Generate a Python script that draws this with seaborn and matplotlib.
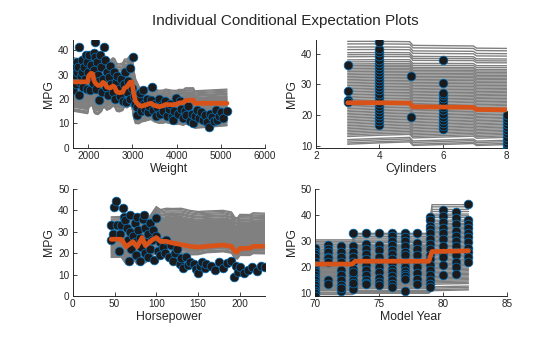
import numpy as np
import pandas as pd
import matplotlib
matplotlib.use("Agg")
import matplotlib.pyplot as plt
import seaborn as sns

# ---------------- data ----------------
title = "Individual Conditional Expectation Plots"

# Weight panel: observations
wt_x = [1649, 1665, 1680, 1700, 1720, 1740, 1755, 1773, 1797, 1800, 1820, 1835, 1850, 1867, 1890, 1900,
        1925, 1950, 1965, 1980, 2000, 2023, 2040, 2050, 2075, 2100, 2120, 2140, 2151, 2160, 2180, 2200,
        2220, 2240, 2250, 2265, 2290, 2300, 2330, 2354, 2380, 2400, 2420, 2450, 2477, 2500, 2520, 2550,
        2580, 2600, 2630, 2660, 2700, 2720, 2750, 2780, 2800, 2830, 2860, 2880, 2900, 2934, 2950, 2980,
        3016, 3040, 3060, 3092, 3110, 3140, 3170, 3200, 3240, 3260, 3290, 3320, 3350, 3380, 3420, 3445,
        3470, 3500, 3530, 3560, 3600, 3630, 3660, 3700, 3740, 3780, 3820, 3860, 3900, 3919, 3950, 3990,
        4030, 4070, 4100, 4140, 4180, 4220, 4260, 4300, 4340, 4380, 4420, 4460, 4500, 4550, 4600, 4650,
        4700, 4731, 4760, 4800, 4850, 4900, 4922, 4960, 5000, 5050, 5146]
wt_y = [23.5, 32.5, 28, 30, 26, 35, 31, 33, 41.4, 21.6, 27, 29.5, 36, 31, 25, 33,
        28, 38, 24, 35, 31, 38, 23.6, 34, 29, 26.5, 39, 32, 43.4, 37, 24, 35,
        30, 27.5, 19.5, 38, 33, 23, 28, 41.2, 36, 25, 31, 21.5, 29, 33.5, 26, 23,
        31, 20, 27, 29.5, 24, 21, 28, 19, 26, 31, 18.6, 23, 27.5, 32.5, 20, 24.5,
        37.3, 21, 18, 13.4, 16.5, 20, 22.5, 15, 23.6, 18, 16, 20, 14.5, 17, 19.5, 25,
        15.5, 18, 13, 16.5, 20, 14, 17.5, 15, 19, 13, 16, 18, 12.5, 11.4, 15, 20.5,
        14, 19, 16, 12, 15, 13.5, 17, 11, 14, 9.9, 13, 15.5, 12, 14.5, 11.5, 13.5,
        10.5, 8.6, 14, 12.5, 11, 15.5, 11.2, 13, 14.5, 12, 15.2]
# Weight panel: partial dependence (orange)
wt_grid = [1649, 1985, 2010, 2060, 2100, 2130, 2160, 2220, 2300, 2330, 2380, 2420, 2500, 2560, 2600,
           2640, 2700, 2780, 2820, 2880, 2940, 2990, 3030, 3070, 3150, 3200, 3300, 3380, 3420, 3500,
           3600, 3700, 3750, 3900, 4000, 4050, 4150, 4200, 4380, 4410, 5140]
wt_pd = [27.0, 27.0, 29.5, 30.5, 30.3, 27.5, 26.5, 25.5, 25.8, 26.8, 26.3, 24.8, 24.5, 25.3, 24.8,
         23.0, 22.5, 22.8, 24.5, 25.0, 26.8, 27.0, 22.0, 19.0, 17.3, 17.0, 17.5, 18.0, 18.2, 17.3,
         16.8, 17.2, 17.7, 17.6, 17.8, 18.3, 18.5, 19.3, 19.5, 18.2, 18.2]
# Weight panel: ICE spread around the PD curve
wt_off_x = [1649, 2100, 2500, 2800, 3000, 3200, 3600, 4000, 4300, 5140]
wt_off_lo = [-12.0, -13.4, -8.5, -7.5, -10.5, -6.5, -6.8, -8.3, -10.4, -9.2]
wt_off_hi = [10.0, 8.0, 11.5, 12.0, 10.5, 7.0, 6.7, 5.7, 5.0, 5.8]

# Cylinders panel
cyl_x = [3] * 4 + [4] * 26 + [5] * 2 + [6] * 15 + [8] * 12
cyl_y = [36.2, 27.8, 24.9, 24.3,
         16.8, 18, 19, 20, 21, 22, 23, 24, 25, 26, 27, 28, 29, 30, 31, 32, 33, 34, 35, 36, 37, 38,
         39.3, 40.5, 41.5, 43.8,
         32.6, 19.3,
         15.4, 16.5, 17.5, 18.5, 19.5, 20.5, 21.5, 22.5, 23.5, 24.5, 25.5, 26.5, 27.3, 30.6, 38,
         9.3, 10.2, 11, 12, 13, 14, 15, 16, 17, 18, 19, 20]
cyl_grid = [3, 4, 4.95, 5.05, 6, 6.95, 7.05, 8]
cyl_pd = [24.0, 24.0, 23.9, 22.7, 22.6, 22.5, 21.8, 21.7]
cyl_off_x = [3, 8]
cyl_off_lo = [-13.5, -11.3]
cyl_off_hi = [20.0, 20.0]

# Horsepower panel
hp_x = [46, 46, 48, 49, 52, 53, 55, 56, 58, 60, 61, 63, 65, 66, 67, 68, 69, 70, 72, 74, 75, 76, 77, 78,
        80, 81, 82, 84, 85, 86, 87, 88, 90, 90, 92, 93, 95, 96, 97, 100, 100, 102, 104, 105, 108, 110,
        112, 115, 118, 120, 122, 125, 128, 130, 132, 135, 138, 140, 145, 148, 150, 152, 155, 158, 160,
        165, 170, 175, 180, 185, 190, 193, 195, 198, 200, 205, 210, 215, 220, 225, 230]
hp_y = [26.2, 33.2, 29, 41.4, 44.3, 33, 21, 29, 33, 41, 37, 35.5, 32, 26, 16.4, 38, 30, 22, 28, 34, 25, 19,
        37, 31, 27, 16.4, 23, 36, 38, 20, 32, 25, 29, 18, 34, 22, 26, 31, 17, 36.6, 28, 21, 19, 25, 23, 20,
        26, 18, 24, 16.5, 20, 22, 15, 17.5, 13, 18, 14.5, 16, 15, 12.5, 10.6, 14, 16, 13, 15,
        14, 12, 16, 13, 15.5, 16.5, 9, 14, 11, 13.5, 10.5, 12, 13.5, 11.5, 14, 13.7]
hp_grid = [46, 58, 64, 72, 77, 83, 87, 95, 100, 105, 112, 119, 130, 140, 150, 160, 170, 180, 190, 194,
           197, 200, 212, 216, 230]
hp_pd = [26.5, 26.5, 23.0, 25.4, 23.0, 27.3, 23.5, 26.2, 27.3, 25.5, 25.5, 24.8, 24.0, 23.2, 22.8,
         23.2, 23.5, 23.8, 23.2, 20.8, 20.5, 22.2, 22.3, 23.2, 23.2]
hp_off_x = [46, 90, 100, 130, 160, 230]
hp_off_lo = [-8.5, -8.0, -7.0, -4.5, -3.0, -3.5]
hp_off_hi = [10.5, 11.0, 14.5, 17.0, 16.5, 15.5]

# Model year panel
my_cols = {
    70: [27.2, 26, 25, 24, 22, 21, 19, 18, 17, 16, 15, 14, 13, 12, 11, 10, 9],
    71: [28.5, 27, 25.9, 24, 23.4, 22, 15.1, 13.5],
    72: [28, 26, 24, 22, 19, 17, 15, 13, 11, 12],
    73: [33, 28, 26, 24, 22, 19.5, 17, 15, 13, 11.5, 14, 18],
    74: [33, 29, 27, 25, 23, 21, 19, 17, 15, 14, 13.5],
    75: [33, 28.5, 26.5, 24, 22, 20, 18, 16, 14.5, 13],
    76: [33, 32, 30, 28.5, 26.5, 25, 23, 21.5, 19.5, 18, 16.5, 15, 13.5, 12.5],
    77: [33, 31.5, 30, 28, 26, 24.5, 22, 20, 18.5, 17.5, 16.5, 15.5, 11],
    78: [33, 29.2, 27, 24.7, 21.9, 20, 17.7, 15.5, 13.4],
    79: [39.4, 38, 36, 34.5, 33, 31, 29, 27, 24.5, 23, 21, 19, 17, 15, 13.5, 12.5],
    80: [41.9, 39.5, 37.5, 35, 33, 31, 28, 25.5, 24, 21, 17],
    81: [41.3, 39, 36.5, 34, 32, 30, 28, 26, 24.5, 22, 20, 17.3],
    82: [44.2, 38, 36.5, 35, 33, 31.5, 29.5, 27.5, 26, 24, 22],
}
my_x = [yr for yr, vals in my_cols.items() for _ in vals]
my_y = [v for vals in my_cols.values() for v in vals]
my_grid = [70, 72.9, 73.15, 78.9, 79.15, 82]
my_pd = [21.2, 21.2, 22.3, 22.3, 26.0, 26.3]
my_off_x = [70, 72.9, 73.15, 78.9, 79.15, 82]
my_off_lo = [-11.7, -11.7, -12.3, -12.3, -15.0, -15.0]
my_off_hi = [9.3, 9.3, 10.7, 10.7, 18.0, 17.7]

# positions of individual ICE curves inside the spread (0 = lowest, 1 = highest)
ice_fracs = [0.000, 0.012, 0.030, 0.045, 0.075, 0.090, 0.105, 0.120, 0.135, 0.150, 0.165, 0.180,
             0.195, 0.210, 0.225, 0.240, 0.255, 0.270, 0.285, 0.300, 0.315, 0.330, 0.345, 0.360,
             0.375, 0.390, 0.405, 0.420, 0.435, 0.450, 0.465, 0.480, 0.495, 0.510, 0.525, 0.540,
             0.555, 0.570, 0.585, 0.600, 0.615, 0.630, 0.645, 0.660, 0.675, 0.690, 0.705, 0.720,
             0.735, 0.750, 0.765, 0.780, 0.800, 0.820, 0.850, 0.870, 0.890, 0.920, 0.945, 0.975,
             1.000]

# ---------------- style ----------------
sns.set_theme(style="white")
plt.rcParams["font.family"] = ["Liberation Sans", "DejaVu Sans"]
DARK = "#262626"
GRAY = "#808080"
ORANGE = "#D95319"
BLUE = "#0072BD"

fig = plt.figure(figsize=(5.6, 3.37), dpi=100)
fig.suptitle(title, x=0.51, y=0.937, va="center", fontsize=11, color=DARK)

axes_pos = {
    "wt": [0.130, 0.562, 0.343, 0.318],
    "cyl": [0.564, 0.562, 0.341, 0.318],
    "hp": [0.130, 0.122, 0.343, 0.317],
    "my": [0.5625, 0.122, 0.3425, 0.317],
}


def ice_frame(grid, pdv, ox, olo, ohi):
    g = np.asarray(grid, float)
    p = np.asarray(pdv, float)
    lo = np.interp(g, ox, olo)
    hi = np.interp(g, ox, ohi)
    rows = []
    for i, f in enumerate(ice_fracs):
        yv = p + lo + f * (hi - lo)
        for xv, yy in zip(g, yv):
            rows.append((i, xv, yy))
    return pd.DataFrame(rows, columns=["line", "x", "y"])


def panel(key, ox, oy, grid, pdv, offx, offlo, offhi, xlim, ylim, xticks, yticks, xlabel):
    ax = fig.add_axes(axes_pos[key])
    ice = ice_frame(grid, pdv, offx, offlo, offhi)
    sns.lineplot(data=ice, x="x", y="y", units="line", estimator=None, sort=False,
                 color=GRAY, linewidth=1.0, ax=ax, legend=False, zorder=1)
    sns.scatterplot(x=ox, y=oy, ax=ax, s=40, color="#1b1b1d", edgecolor=BLUE,
                    linewidth=0.5, zorder=3, legend=False)
    sns.lineplot(x=grid, y=pdv, ax=ax, color=ORANGE, linewidth=3.4, sort=False,
                 estimator=None, zorder=4, legend=False)
    ax.set_xlim(*xlim)
    ax.set_ylim(*ylim)
    ax.set_xticks(xticks)
    ax.set_yticks(yticks)
    for s in ["top", "right"]:
        ax.spines[s].set_visible(False)
    for s in ["left", "bottom"]:
        ax.spines[s].set_color(DARK)
        ax.spines[s].set_linewidth(0.7)
    ax.tick_params(direction="in", length=3, width=0.6, colors=DARK, labelsize=7.2, pad=2.5,
                   left=True, bottom=True)
    ax.set_xlabel(xlabel, fontsize=8.8, color=DARK, labelpad=1.5)
    ax.set_ylabel("MPG", fontsize=8.8, color=DARK, labelpad=2)
    ax.grid(False)
    return ax


panel("wt", wt_x, wt_y, wt_grid, wt_pd, wt_off_x, wt_off_lo, wt_off_hi,
      (1649, 6000), (0, 44), [2000, 3000, 4000, 5000, 6000], [0, 10, 20, 30, 40], "Weight")
panel("cyl", cyl_x, cyl_y, cyl_grid, cyl_pd, cyl_off_x, cyl_off_lo, cyl_off_hi,
      (2, 8), (9.4, 44.3), [2, 4, 6, 8], [10, 20, 30, 40], "Cylinders")
panel("hp", hp_x, hp_y, hp_grid, hp_pd, hp_off_x, hp_off_lo, hp_off_hi,
      (0, 230), (0, 50), [0, 50, 100, 150, 200], [0, 10, 20, 30, 40, 50], "Horsepower")
panel("my", my_x, my_y, my_grid, my_pd, my_off_x, my_off_lo, my_off_hi,
      (70, 85), (9, 50), [70, 75, 80, 85], [10, 20, 30, 40, 50], "Model Year")

fig.savefig("out.png", dpi=100)
